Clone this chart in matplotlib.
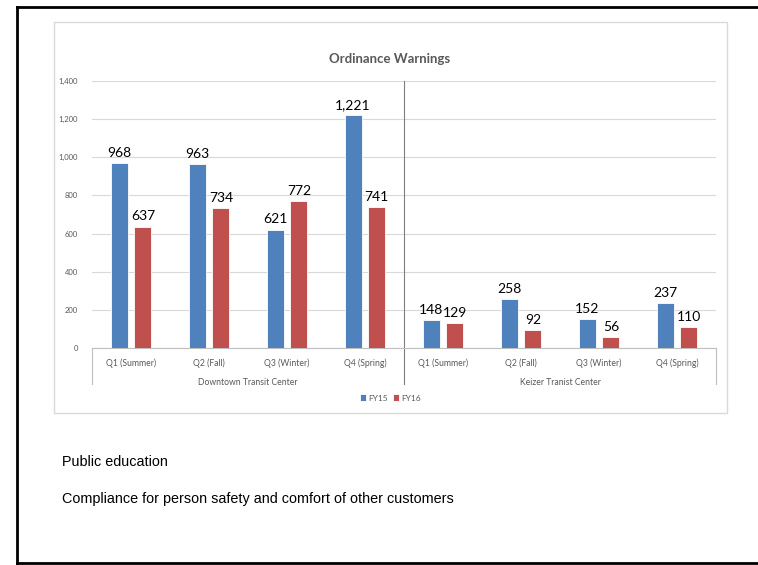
import numpy as np
import matplotlib.pyplot as plt
from matplotlib.patches import Rectangle
from matplotlib.lines import Line2D
from matplotlib.ticker import StrMethodFormatter

# Ordinance warnings per quarter, two transit centers
quarters = ['Q1 (Summer)', 'Q2 (Fall)', 'Q3 (Winter)', 'Q4 (Spring)']
centers = ['Downtown Transit Center', 'Keizer Tranist Center']
fy15 = [968, 963, 621, 1221, 148, 258, 152, 237]
fy16 = [637, 734, 772, 741, 129, 92, 56, 110]
notes = ['Public education',
         'Compliance for person safety and comfort of other customers']

blue = '#4F81BD'
red = '#C0504D'
grey_txt = '#595959'

W, H = 758, 565
fig = plt.figure(figsize=(W / 100, H / 100), dpi=100)
chart_font = ['Lato', 'DejaVu Sans']
body_font = ['Liberation Sans Narrow', 'Liberation Sans']


def px(x0, y0, x1, y1):
    # pixel box (top-left origin) -> figure fraction rect
    return [x0 / W, 1 - y1 / H, (x1 - x0) / W, (y1 - y0) / H]


# slide frame
frame = fig.add_axes([0, 0, 1, 1])
frame.set_xlim(0, W)
frame.set_ylim(H, 0)
frame.axis('off')
frame.add_line(Line2D([17, 17], [7, 563], color='black', lw=2))
frame.add_line(Line2D([17, W], [7, 7], color='black', lw=2))
frame.add_line(Line2D([17, W], [563, 563], color='black', lw=2))
frame.add_patch(Rectangle((54, 22), 673, 391, fill=False, ec='#D9D9D9', lw=1))
frame.text(390, 59, 'Ordinance Warnings', ha='center', va='center',
           fontsize=9.5, fontweight='bold', color=grey_txt, family=chart_font)
frame.text(62, 462, notes[0], ha='left', va='center', fontsize=10.4, family=body_font)
frame.text(62, 499, notes[1], ha='left', va='center', fontsize=10.4, family=body_font)

# bar chart
ax = fig.add_axes(px(92, 81, 716, 348))
x = np.arange(len(fy15))
bw = 0.22
off = 0.152
b1 = ax.bar(x - off, fy15, bw, color=blue, edgecolor='white', lw=0.6, label='FY15', zorder=3)
b2 = ax.bar(x + off, fy16, bw, color=red, edgecolor='white', lw=0.6, label='FY16', zorder=3)
for bars in (b1, b2):
    for r in bars:
        v = r.get_height()
        ax.annotate(f'{v:,.0f}', (r.get_x() + r.get_width() / 2, v),
                    xytext=(0, 3), textcoords='offset points', ha='center',
                    va='bottom', fontsize=10, color='black', family=chart_font)

ax.set_xlim(-0.5, len(fy15) - 0.5)
ax.set_ylim(0, 1400)
ax.set_yticks(np.arange(0, 1401, 200))
ax.yaxis.set_major_formatter(StrMethodFormatter('{x:,.0f}'))
ax.tick_params(axis='y', length=0, labelsize=5.5, labelcolor=grey_txt, pad=10)
ax.set_xticks([])
ax.grid(axis='y', color='#D9D9D9', lw=0.8, zorder=0)
for s in ['top', 'right', 'left']:
    ax.spines[s].set_visible(False)
ax.spines['bottom'].set_color('#BFBFBF')
for lab in ax.get_yticklabels():
    lab.set_family(chart_font)

# two-level category axis
tr = ax.get_xaxis_transform()
for i in range(len(fy15)):
    ax.text(i, -0.058, quarters[i % 4], transform=tr, ha='center', va='center',
            fontsize=6.2, color=grey_txt, family=chart_font)
for g, name in enumerate(centers):
    ax.text(g * 4 + 1.5, -0.13, name, transform=tr, ha='center', va='center',
            fontsize=6.2, color=grey_txt, family=chart_font)
for xv in (-0.5, 7.5):
    ax.add_line(Line2D([xv, xv], [0, -0.135], transform=tr, color='#BFBFBF',
                       lw=0.8, clip_on=False))
ax.add_line(Line2D([3.5, 3.5], [1, -0.135], transform=tr, color='#7F7F7F',
                   lw=0.8, clip_on=False))

leg = fig.legend(handles=[b1, b2], loc='center', bbox_to_anchor=(390 / W, 1 - 398 / H),
                 ncol=2, frameon=False, handlelength=0.8, handleheight=0.8,
                 handletextpad=0.2, columnspacing=0.6,
                 prop={'family': chart_font, 'size': 6})
for t in leg.get_texts():
    t.set_color(grey_txt)

fig.savefig('out.png', dpi=100)
